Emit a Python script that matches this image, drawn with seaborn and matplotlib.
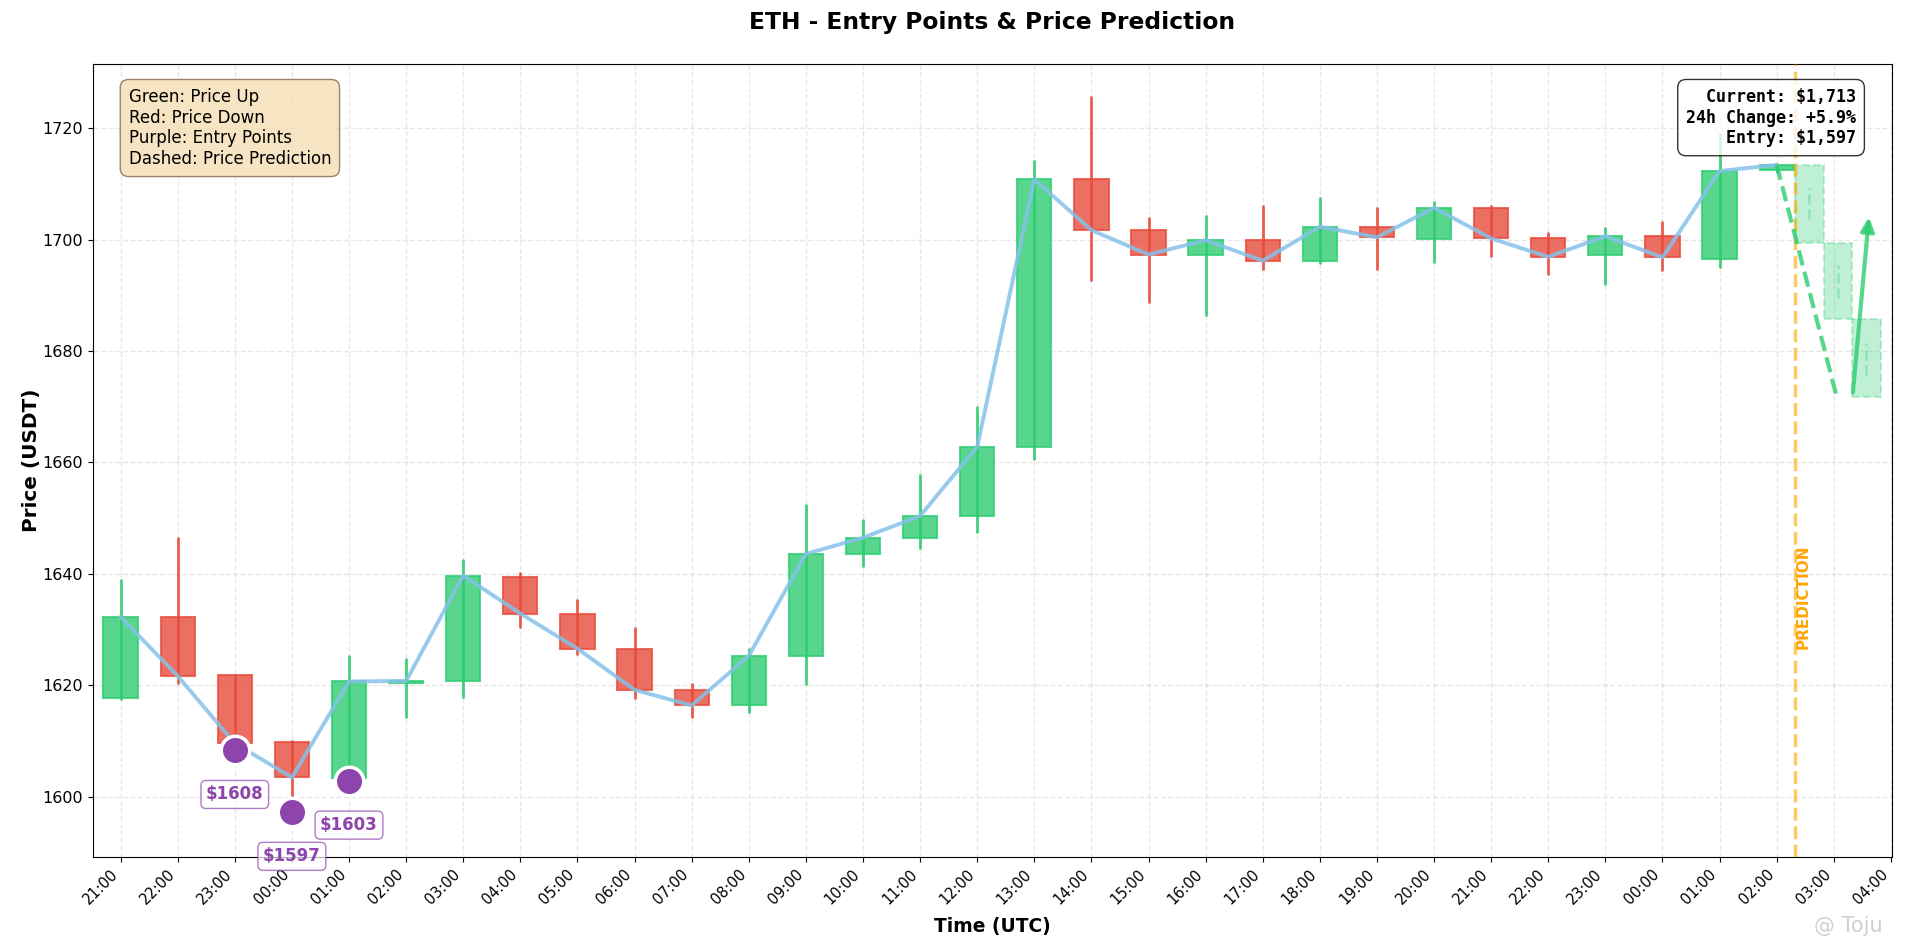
import numpy as np
import pandas as pd
import matplotlib
matplotlib.use("Agg")
import matplotlib.pyplot as plt
import seaborn as sns
from matplotlib.patches import Rectangle

# hourly candles, 21:00 -> 02:00 (UTC)
hours = ["21:00", "22:00", "23:00", "00:00", "01:00", "02:00", "03:00", "04:00",
         "05:00", "06:00", "07:00", "08:00", "09:00", "10:00", "11:00", "12:00",
         "13:00", "14:00", "15:00", "16:00", "17:00", "18:00", "19:00", "20:00",
         "21:00", "22:00", "23:00", "00:00", "01:00", "02:00"]
tick_labels = hours + ["03:00", "04:00"]

opens = [1617.7, 1632.3, 1621.8, 1609.8, 1603.3, 1620.5, 1620.8, 1639.5,
         1632.9, 1626.6, 1619.2, 1616.4, 1625.3, 1643.6, 1646.5, 1650.4,
         1662.8, 1710.8, 1701.7, 1697.3, 1699.9, 1696.2, 1702.2, 1700.1,
         1705.7, 1700.3, 1697.3, 1700.6, 1696.6, 1712.4]
closes = [1632.3, 1621.7, 1609.6, 1603.5, 1620.7, 1620.8, 1639.7, 1632.9,
          1626.6, 1619.2, 1616.4, 1625.3, 1643.6, 1646.5, 1650.4, 1662.8,
          1710.8, 1701.7, 1697.3, 1699.9, 1696.2, 1702.3, 1700.4, 1705.7,
          1700.2, 1696.9, 1700.6, 1696.8, 1712.3, 1713.4]
highs = [1638.9, 1646.5, 1621.8, 1610.0, 1625.3, 1624.7, 1642.5, 1640.1,
         1635.3, 1630.3, 1620.3, 1626.6, 1652.4, 1649.7, 1657.8, 1670.0,
         1714.1, 1725.5, 1703.9, 1704.3, 1706.0, 1707.4, 1705.6, 1706.8,
         1706.0, 1701.2, 1702.1, 1703.2, 1719.0, 1713.6]
lows = [1617.5, 1620.4, 1608.4, 1597.3, 1602.9, 1614.4, 1618.0, 1630.5,
        1625.7, 1617.7, 1614.4, 1615.3, 1620.3, 1641.5, 1644.7, 1647.6,
        1660.7, 1692.7, 1688.8, 1686.4, 1694.7, 1695.8, 1694.7, 1695.9,
        1697.1, 1693.9, 1692.1, 1694.6, 1695.0, 1712.2]

# entry points
entry_idx = [2, 3, 4]
entry_price = [1608.4, 1597.3, 1602.9]
entry_text = ["$1608", "$1597", "$1603"]

# prediction
pred_start = 29.32
pred_times = [29.57, 30.07, 30.57]
pred_open = [1713.3, 1699.4, 1685.7]
pred_close = [1699.4, 1685.7, 1671.7]
pred_wick_hi = [1709.2, 1695.4, 1681.4]
pred_wick_lo = [1703.6, 1689.5, 1675.7]
pred_line_x = [29, 30.04]
pred_line_y = [1713.4, 1672.2]
arrow_from = (30.33, 1672.1)
arrow_to = (30.62, 1704.5)

info_text = "Current: $1,713\n24h Change: +5.9%\nEntry: $1,597"
legend_text = "Green: Price Up\nRed: Price Down\nPurple: Entry Points\nDashed: Price Prediction"

GREEN = "#2ECC71"
RED = "#E74C3C"
PURPLE = "#8E44AD"

df = pd.DataFrame({"x": np.arange(len(hours)), "open": opens, "close": closes,
                   "high": highs, "low": lows})
entries = pd.DataFrame({"x": entry_idx, "price": entry_price})

sns.set_style("ticks")
plt.rcParams["font.family"] = ["DejaVu Sans"]
plt.rcParams.update({"text.color": "black", "axes.labelcolor": "black",
                     "xtick.color": "black", "ytick.color": "black",
                     "axes.edgecolor": "black"})

fig, ax = plt.subplots(figsize=(19.05, 9.47), dpi=100)
fig.subplots_adjust(left=0.0486, right=0.9932, top=0.9324, bottom=0.095)

ax.grid(True, linestyle="--", alpha=0.3, color="#b0b0b0", lw=1, zorder=0)
ax.set_axisbelow(True)

# candles
for _, r in df.iterrows():
    c = GREEN if r["close"] >= r["open"] else RED
    ax.plot([r["x"], r["x"]], [r["low"], r["high"]], color=c, lw=2, alpha=0.9, zorder=2)
    bottom = min(r["open"], r["close"])
    h = max(abs(r["close"] - r["open"]), 0.3)
    ax.add_patch(Rectangle((r["x"] - 0.3, bottom), 0.6, h, facecolor=c,
                           edgecolor=c, alpha=0.8, lw=1.5, zorder=3))

# close line
sns.lineplot(data=df, x="x", y="close", color="#85C1E9", lw=2.8, alpha=0.85,
             ax=ax, zorder=4)

# prediction candles
for t, o, c, hi, lo in zip(pred_times, pred_open, pred_close, pred_wick_hi, pred_wick_lo):
    ax.add_patch(Rectangle((t - 0.25, min(o, c)), 0.5, abs(c - o), facecolor=GREEN,
                           edgecolor=GREEN, alpha=0.3, lw=1.5, ls="--", zorder=3))
    ax.plot([t, t], [lo, hi], color=GREEN, alpha=0.3, lw=2, ls="--", zorder=3)

ax.plot(pred_line_x, pred_line_y, color=GREEN, lw=3, ls="--", alpha=0.8, zorder=5)
ax.annotate("", xy=arrow_to, xytext=arrow_from,
            arrowprops=dict(arrowstyle="-|>", color=GREEN, lw=3, alpha=0.8,
                            mutation_scale=20), zorder=5)

ax.axvline(pred_start, color="orange", ls="--", lw=2.5, alpha=0.6, zorder=4)
ax.text(pred_start + 0.02, 1626.5, "PREDICTION", rotation=90, color="orange",
        fontsize=11, fontweight="bold", ha="left", va="bottom", zorder=6)

# entry points
sns.scatterplot(data=entries, x="x", y="price", s=420, color=PURPLE, edgecolor="white",
                linewidth=2.5, zorder=6, ax=ax, legend=False)
for x, p, t in zip(entry_idx, entry_price, entry_text):
    ax.annotate(t, (x, p), xytext=(0, -32), textcoords="offset points", ha="center",
                va="center", fontsize=12, fontweight="bold", color=PURPLE, zorder=7,
                bbox=dict(boxstyle="round,pad=0.3", facecolor="white",
                          edgecolor=PURPLE, alpha=0.7))

ax.text(0.98, 0.97, info_text, transform=ax.transAxes, ha="right", va="top",
        fontsize=12, fontweight="bold", family="monospace", multialignment="right",
        bbox=dict(boxstyle="round,pad=0.5", facecolor="white", edgecolor="black",
                  alpha=0.8), zorder=8)
ax.text(0.02, 0.97, legend_text, transform=ax.transAxes, ha="left", va="top",
        fontsize=12, bbox=dict(boxstyle="round,pad=0.5", facecolor="wheat",
                               edgecolor="#7d6a50", alpha=0.8),
        zorder=8)

ax.set_xticks(np.arange(len(tick_labels)))
ax.set_xticklabels(tick_labels, rotation=45, ha="right", fontsize=10.5)
ax.tick_params(axis="y", labelsize=11.5)
ax.set_xlim(-0.49, 31.02)
ax.set_ylim(1589.2, 1731.5)
for s in ax.spines.values():
    s.set_color("black")
    s.set_visible(True)

ax.set_title("ETH - Entry Points & Price Prediction", fontsize=16.8, fontweight="bold", pad=25)
ax.set_xlabel("Time (UTC)", fontsize=13.4, fontweight="bold", labelpad=7)
ax.set_ylabel("Price (USDT)", fontsize=14.4, fontweight="bold", labelpad=1)

fig.text(0.988, 0.022, "@ Toju", color="#d0d0d0", fontsize=15, ha="right", va="center")

fig.savefig("out.png", dpi=100)
